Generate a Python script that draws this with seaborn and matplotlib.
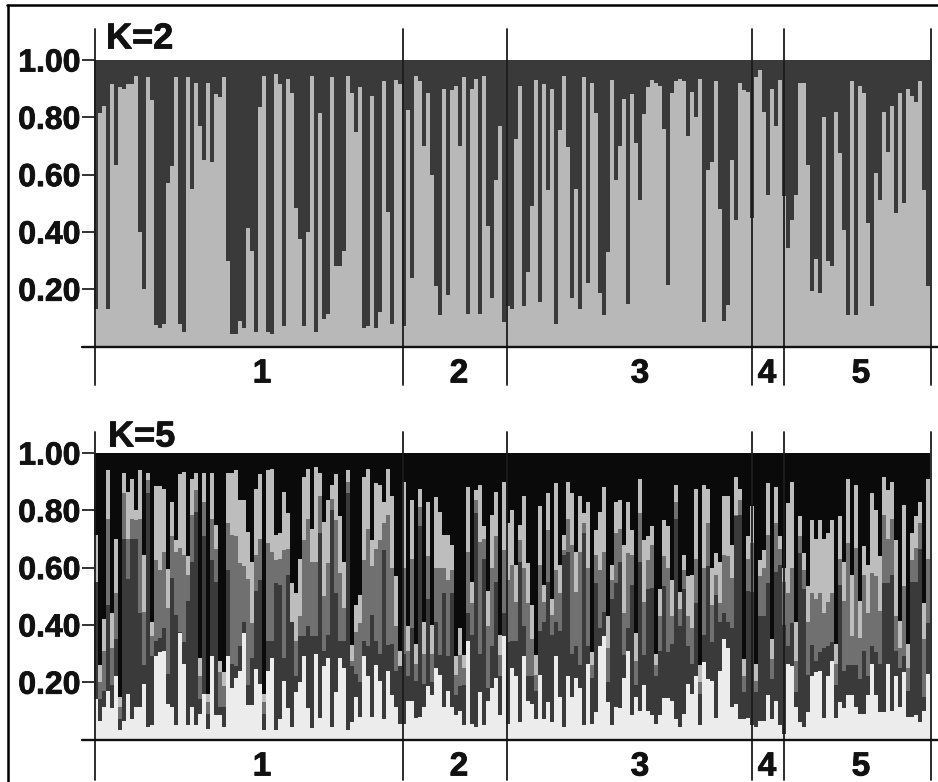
import pandas as pd
import seaborn as sns
import matplotlib.pyplot as plt
import matplotlib.patheffects as pe
from matplotlib.lines import Line2D

group_labels = ["1", "2", "3", "4", "5"]
group_label_px = [262, 459, 640, 767, 861]
y_ticks = [0.2, 0.4, 0.6, 0.8, 1.0]
y_tick_labels = ["0.20", "0.40", "0.60", "0.80", "1.00"]

# K=2, top of the light part of each bar
k2_light = [
    .13,.815,.84,.13,.915,.635,.905,.90,.915,.915,.945,.40,.20,.94,.86,.075,.065,.08,.57,.63,
    .94,.08,.05,.94,.55,.92,.77,.65,.92,.645,.88,.87,.94,.30,.045,.045,.09,.065,.415,.335,
    .05,.835,.945,.05,.045,.95,.915,.07,.935,.885,.485,.375,.07,.40,.945,.05,.815,.095,.115,.94,
    .28,.28,.335,.945,.885,.75,.905,.065,.07,.875,.065,.12,.925,.47,.08,.93,.915,
    .07,.825,.24,.945,.925,.70,.885,.60,.21,.11,.90,.18,.895,.91,.70,.94,.115,
    .90,.935,.115,.945,.42,.17,.58,.77,.085,
    .14,.13,.725,.91,.14,.26,.49,.93,.155,.915,.545,.90,.08,.755,.945,.695,.17,.55,.13,.94,
    .22,.92,.815,.185,.11,.33,.93,.58,.70,.865,.15,.88,.71,.51,.81,.905,.93,.92,.91,.76,
    .215,.885,.925,.935,.925,.735,.89,.80,.935,.085,.615,.645,.925,.48,.09,.145,.65,.44,.92,.895,.89,
    .45,.94,.965,.82,.53,.90,.77,.93,
    .525,.345,.44,.53,.92,.92,.635,.195,.305,.185,.80,.30,.28,.82,.675,.405,.11,.925,.11,.91,
    .885,.43,.14,.605,.51,.82,.68,.84,.465,.885,.50,.90,.875,.855,.925,.545,.21,
]

# K=5, cumulative tops of the four lower layers
k5_pale = [
    .14,.065,.115,.17,.11,.22,.033,.065,.16,.07,.115,.115,.195,.045,.05,.29,.305,.31,.125,.115,
    .05,.37,.265,.05,.115,.05,.09,.16,.038,.29,.085,.085,.045,.29,.18,.215,.24,.37,.12,
    .12,.245,.195,.033,.24,.285,.033,.07,.205,.11,.045,.165,.20,.29,.11,.04,.30,.075,.255,.285,
    .045,.165,.285,.25,.033,.06,.15,.08,.29,.22,.08,.26,.205,.07,.24,.155,.115,.055,.055,.135,
    .135,.075,.08,.115,.185,.155,.25,.225,.115,.17,.115,.085,.10,.05,.345,.055,.045,.165,.05,.135,
    .18,.215,.085,.36,
    .055,.25,.22,.06,.29,.135,.125,.07,.225,.07,.13,.06,.29,.15,.045,.22,.15,.215,.18,.05,.265,
    .055,.095,.325,.36,.13,.05,.115,.11,.215,.31,.085,.15,.10,.19,.10,.085,.055,.085,.145,.145,
    .135,.07,.045,.09,.195,.16,.22,.05,.27,.21,.205,.075,.24,.35,.32,.115,.125,.07,.07,.075,
    .05,.045,.065,.065,.155,.07,.135,.05,
    .02,.265,.255,.115,.06,.045,.095,.22,.235,.24,.075,.22,.275,.075,.13,.11,.155,.155,.115,.09,
    .09,.155,.265,.155,.095,.095,.265,.10,.22,.115,.235,.08,.08,.085,.06,.10,.23,
]
k5_dark = [
    .55,.14,.17,.47,.19,.35,.073,.70,.56,.70,.70,.44,.26,.86,.29,.345,.355,.39,.23,.565,
    .435,.375,.34,.485,.62,.795,.143,.71,.09,.625,.55,.115,.115,.59,.265,.255,.325,.41,.19,
    .285,.52,.555,.09,.345,.345,.545,.54,.285,.575,.41,.22,.36,.36,.395,.36,.36,.72,.31,.365,
    .80,.51,.345,.345,.86,.255,.23,.20,.345,.325,.435,.345,.30,.66,.33,.335,.24,.255,.30,.22,
    .39,.205,.745,.195,.49,.20,.41,.295,.51,.29,.51,.155,.185,.19,.44,.365,.79,.30,.63,.18,
    .325,.55,.22,.44,
    .34,.345,.345,.62,.395,.22,.22,.17,.38,.41,.55,.365,.41,.38,.645,.655,.30,.325,.26,.72,.325,
    .215,.545,.39,.445,.20,.49,.545,.62,.295,.39,.54,.19,.62,.295,.525,.53,.22,.31,.535,.305,
    .335,.77,.395,.525,.325,.265,.475,.16,.365,.605,.34,.505,.41,.44,.41,.39,.78,.785,.165,.52,
    .515,.165,.43,.43,.545,.21,.585,.61,
    .40,.325,.405,.165,.65,.525,.225,.33,.275,.305,.32,.325,.34,.19,.54,.24,.26,.26,.26,.21,
    .31,.22,.325,.305,.265,.545,.545,.575,.31,.25,.29,.17,.55,.55,.665,.15,.405,
]
k5_mid = [
    .55,.20,.31,.77,.32,.51,.115,.86,.70,.77,.765,.77,.445,.905,.36,.625,.59,.655,.46,.71,
    .655,.67,.645,.575,.785,.87,.22,.83,.13,.77,.665,.235,.185,.755,.715,.71,.615,.605,.56,
    .405,.645,.70,.13,.685,.655,.625,.63,.66,.665,.41,.345,.43,.695,.77,.62,.62,.85,.50,.615,
    .84,.765,.58,.46,.90,.275,.375,.405,.625,.735,.605,.665,.695,.755,.785,.60,.395,.255,.60,.31,
    .63,.265,.81,.30,.64,.30,.60,.60,.60,.555,.59,.225,.295,.25,.655,.475,.835,.69,.70,.395,
    .60,.71,.295,.66,
    .555,.61,.48,.695,.60,.475,.35,.225,.61,.48,.73,.435,.59,.51,.66,.77,.68,.515,.655,.755,.60,
    .26,.645,.59,.655,.32,.555,.72,.735,.44,.65,.645,.275,.79,.48,.625,.68,.26,.43,.64,.60,
    .43,.83,.455,.59,.43,.39,.63,.20,.60,.755,.47,.575,.475,.645,.64,.565,.785,.835,.22,.63,
    .685,.205,.57,.60,.715,.28,.755,.665,
    .55,.51,.60,.275,.71,.59,.41,.51,.49,.51,.44,.48,.51,.265,.63,.485,.685,.36,.67,.355,
    .575,.44,.58,.57,.45,.785,.70,.77,.43,.32,.535,.25,.625,.67,.755,.35,.63,
]
k5_light = [
    .715,.26,.42,.94,.44,.70,.15,.93,.865,.91,.80,.94,.645,.93,.41,.885,.885,.875,.595,.83,
    .695,.925,.935,.64,.91,.93,.285,.93,.16,.93,.75,.275,.235,.93,.93,.94,.835,.835,.725,
    .62,.875,.925,.16,.94,.945,.715,.72,.865,.79,.545,.51,.63,.915,.945,.735,.95,.93,.76,.835,
    .89,.925,.78,.62,.94,.33,.47,.505,.915,.945,.695,.895,.89,.83,.945,.85,.57,.31,.90,.395,
    .835,.335,.875,.41,.83,.40,.845,.795,.715,.715,.68,.29,.39,.295,.88,.55,.87,.89,.745,.52,
    .785,.865,.365,.90,
    .755,.80,.61,.75,.85,.615,.47,.295,.815,.54,.86,.49,.895,.61,.715,.90,.86,.655,.85,.79,.83,
    .305,.73,.795,.88,.43,.61,.83,.835,.68,.83,.73,.37,.91,.695,.71,.745,.30,.525,.765,.745,
    .555,.89,.515,.645,.57,.575,.875,.26,.89,.875,.60,.65,.62,.85,.85,.68,.915,.875,.28,.71,
    .815,.265,.625,.66,.895,.35,.88,.71,
    .60,.825,.90,.41,.78,.65,.535,.765,.70,.765,.70,.72,.765,.335,.78,.62,.91,.575,.89,.485,
    .675,.61,.86,.80,.64,.915,.87,.90,.695,.415,.82,.335,.72,.78,.83,.475,.91,
]

W, H = 938, 782
LEFT, RIGHT = 94, 930
heavy = [pe.withStroke(linewidth=0.6, foreground="#111111")]


def px_x(p):
    return (p - LEFT) / 4 - 0.5


def draw_panel(top_px, base_px, layers, title, title_px, line_top, line_bottom, label_y):
    ax = plt.gcf().add_axes([LEFT / W, 1 - base_px / H, (RIGHT - LEFT) / W, (base_px - top_px) / H])
    n = len(layers[-1][0])
    for values, color in layers:
        df = pd.DataFrame({"bar": range(n), "q": values})
        sns.barplot(data=df, x="bar", y="q", color=color, saturation=1, width=1, linewidth=0,
                    errorbar=None, ax=ax, zorder=2)
    ax.set_xlim(-0.5, n - 0.5)
    ax.set_ylim(0, 1)
    ax.set_xlabel("")
    ax.set_ylabel("")
    ax.set_xticks([])
    ax.set_yticks(y_ticks)
    ax.set_yticklabels(y_tick_labels, fontsize=23, fontweight="bold", color="#111111")
    for t in ax.get_yticklabels():
        t.set_path_effects(heavy)
    ax.tick_params(axis="y", left=True, length=8.6, width=1.3, pad=1, color="#222222")
    sns.despine(ax=ax, left=True, bottom=True)
    ax.patch.set_alpha(0)

    # group dividers run above and below the bars
    h = base_px - top_px
    for p in [95, 403, 507, 751.5, 784, 931]:
        ax.plot([px_x(p), px_x(p)], [(base_px - line_bottom) / h, (base_px - line_top) / h],
                color="#1c1c1c", lw=1.3, clip_on=False, zorder=5)
    ax.axhline(0, xmin=(82 - LEFT) / (RIGHT - LEFT), xmax=(W - LEFT) / (RIGHT - LEFT),
               color="#111111", lw=1.7, clip_on=False, zorder=6)

    for lab, p in zip(group_labels, group_label_px):
        ax.text(px_x(p), (base_px - label_y) / h, lab, fontsize=24, fontweight="bold",
                ha="center", va="center", color="#111111", path_effects=heavy)
    ax.text(px_x(title_px[0]), (base_px - title_px[1]) / h, title, fontsize=26, fontweight="bold",
            ha="left", va="center", color="#111111", path_effects=heavy)
    return ax


def main():
    sns.set_theme(style="white")
    plt.rcParams["font.family"] = ["Liberation Sans", "DejaVu Sans"]
    fig = plt.figure(figsize=(W / 100, H / 100), dpi=100, facecolor="white")

    full = [1.0] * len(k2_light)
    draw_panel(60, 346.5, [(full, "#3a3a3a"), (k2_light, "#b8b8b8")], "K=2", (106, 39), 29, 385, 374)
    draw_panel(453, 739.5,
               [(full, "#0a0a0a"), (k5_light, "#bdbdbd"), (k5_mid, "#707070"),
                (k5_dark, "#3a3a3a"), (k5_pale, "#ececec")],
               "K=5", (108, 437), 432, 780, 767)

    # outer frame of the figure
    fig.add_artist(Line2D([7.5 / W, 7.5 / W], [0, 1 - 5 / H], color="black", lw=1.8))
    fig.add_artist(Line2D([7 / W, 1], [1 - 5 / H, 1 - 5 / H], color="black", lw=1.8))

    fig.savefig("out.png", dpi=100, facecolor="white")


if __name__ == "__main__":
    main()
